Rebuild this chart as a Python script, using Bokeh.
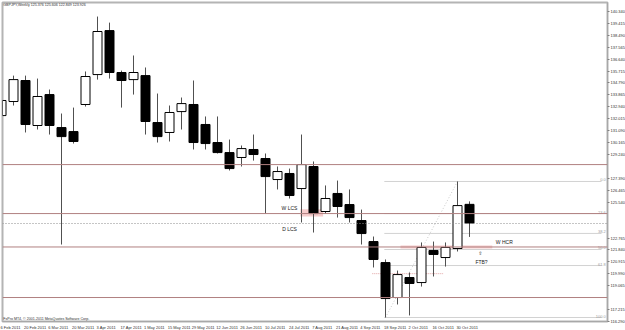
from bokeh.plotting import figure
from bokeh.models import (FixedTicker, LinearAxis, Range1d, Label, Span,
                          NumeralTickFormatter, ColumnDataSource)
from bokeh.core.properties import value
from bokeh.embed import file_html
from bokeh.resources import INLINE

# ---- data (GBPJPY weekly) ----
opens = [132.26, 133.35, 134.98, 131.49, 133.89, 131.33, 131.02, 133.12, 135.44, 138.85,
         135.60, 135.05, 135.36, 131.72, 130.95, 132.57, 133.12, 131.57, 130.17, 129.39,
         129.01, 129.63, 128.93, 127.30, 127.77, 126.60, 128.31, 124.82, 126.22, 125.36,
         124.12, 122.49, 120.86, 118.15, 119.70, 119.31, 121.80, 121.25, 121.95, 125.376]
highs = [134.20, 135.36, 135.36, 135.13, 134.28, 132.42, 132.88, 135.68, 139.94, 139.47,
         135.75, 136.92, 135.99, 133.97, 133.04, 133.66, 134.98, 132.19, 132.19, 130.40,
         129.94, 130.79, 129.32, 128.31, 128.15, 130.79, 128.70, 126.84, 127.22, 126.53,
         124.97, 122.88, 121.10, 120.24, 120.09, 122.42, 122.49, 122.42, 127.15, 125.606]
lows = [131.49, 133.04, 130.95, 131.18, 130.79, 122.26, 130.09, 132.96, 135.05, 135.13,
        132.88, 133.89, 130.79, 130.17, 130.25, 131.18, 129.63, 129.63, 129.32, 128.00,
        128.31, 128.77, 124.66, 126.53, 125.83, 123.97, 123.19, 124.66, 124.35, 123.97,
        122.26, 120.48, 116.60, 117.61, 116.76, 119.00, 119.78, 120.55, 121.72, 122.849]
closes = [133.43, 135.05, 131.57, 133.74, 131.49, 130.63, 130.25, 135.29, 138.78, 135.60,
          134.98, 135.60, 131.80, 130.63, 132.50, 133.19, 130.17, 130.09, 129.39, 128.15,
          129.70, 129.24, 127.53, 127.92, 126.06, 128.46, 124.66, 125.83, 125.21, 124.35,
          123.11, 121.10, 118.07, 119.93, 119.24, 122.03, 121.49, 122.03, 125.28, 123.926]

date_labels = ["6 Feb 2011", "20 Feb 2011", "6 Mar 2011", "20 Mar 2011", "3 Apr 2011",
               "17 Apr 2011", "1 May 2011", "15 May 2011", "29 May 2011", "12 Jun 2011",
               "26 Jun 2011", "10 Jul 2011", "24 Jul 2011", "7 Aug 2011", "21 Aug 2011",
               "4 Sep 2011", "18 Sep 2011", "2 Oct 2011", "16 Oct 2011", "30 Oct 2011"]
date_positions = [0, 2, 4, 6, 8, 10, 12, 14, 16, 18, 20, 22, 24, 26, 28, 30, 32, 34, 36, 38]

price_ticks = [116.290, 117.215, 119.065, 119.990, 120.915, 121.840, 122.765, 125.540,
               126.465, 127.390, 129.240, 130.165, 131.090, 132.015, 132.940, 133.865,
               134.790, 135.715, 136.640, 137.565, 138.490, 139.415, 140.340]

solid_levels = [128.46, 124.66, 122.07, 118.15]
dotted_levels = [123.89]
marked_levels = [128.46, 124.66, 123.89, 122.07, 118.15]

fib_ratios = [0.0, 23.6, 38.2, 50.0, 61.8, 100.0]
fib_low_bar = 32
fib_high_bar = 38

header = "GBPJPY,Weekly  125.376 125.606 122.849 123.926"
copyright_text = "FxPro MT4, \u00a9 2001-2011 MetaQuotes Software Corp."

# ---- figure ----
FONT = "Liberation Sans"
BAR_PX = 12.0
p = figure(frame_width=605, frame_height=319,
           x_range=Range1d(1.0 / BAR_PX, 606.0 / BAR_PX), y_range=Range1d(116.29, 141.03),
           output_backend="svg", toolbar_location=None,
           x_axis_location=None, y_axis_location=None,
           min_border_left=2, min_border_top=2, min_border_right=0, min_border_bottom=0,
           background_fill_color="white", border_fill_color="white")
p.xgrid.visible = False
p.ygrid.visible = False
p.outline_line_color = "#b4b4b4"
p.outline_line_width = 2

# MT4 writes each date starting at its bar: shift the (centred) label by half its width
label_px_per_char = 1.75
shifted = [pos + len(lbl) * label_px_per_char / 2.0 / BAR_PX
           for pos, lbl in zip(date_positions, date_labels)]
xaxis = LinearAxis(ticker=FixedTicker(ticks=shifted),
                   major_label_overrides={k: v for k, v in zip(shifted, date_labels)})
yaxis = LinearAxis(ticker=FixedTicker(ticks=price_ticks),
                   formatter=NumeralTickFormatter(format="0.000"))
for ax in (xaxis, yaxis):
    ax.axis_line_color = "#a8a8a8"
    ax.axis_line_width = 1
    ax.major_tick_line_color = "#808080"
    ax.major_tick_out = 2
    ax.major_tick_in = 0
    ax.minor_tick_line_color = None
    ax.major_label_standoff = 1
    ax.major_label_text_font = FONT
    ax.major_label_text_font_size = "4px"
    ax.major_label_text_color = "#303030"
xaxis.major_tick_line_color = None
xaxis.major_tick_out = 2
p.add_layout(xaxis, "below")
p.add_layout(yaxis, "right")

idx = list(range(len(opens)))

# zones
p.quad(left=[24.9, 33.25], right=[26.8, 40.9], bottom=[124.43, 121.95], top=[125.0, 122.18],
       fill_color="#f6cccc", line_color=None)

# levels
for lv in solid_levels:
    p.add_layout(Span(location=lv, dimension="width", line_color="#b08080", line_width=1))
for lv in dotted_levels:
    p.add_layout(Span(location=lv, dimension="width", line_color="#8a8a8a",
                      line_width=1, line_dash="1 2"))

# short dotted level
p.segment(x0=[30.9], y0=[120.0], x1=[36.8], y1=[120.0], line_color="#e0a0a0",
          line_width=1, line_dash="1 1")

# fibonacci
f_hi = highs[fib_high_bar]
f_lo = lows[fib_low_bar]
fib_prices = [f_hi - r / 100.0 * (f_hi - f_lo) for r in fib_ratios]
fx0 = fib_low_bar - 0.1
fx1 = 50.0
p.segment(x0=[fx0] * len(fib_prices), y0=fib_prices, x1=[fx1] * len(fib_prices), y1=fib_prices,
          line_color="#d2d2d2", line_width=1)
p.segment(x0=[fib_low_bar], y0=[f_lo], x1=[fib_high_bar], y1=[f_hi],
          line_color="#c8c8c8", line_width=1, line_dash="1 2")
p.text(x=[50.35] * len(fib_prices), y=fib_prices, text=["%.1f" % r for r in fib_ratios],
       text_font=value(FONT), text_font_size="4px", text_color="#a0a0a0",
       text_align="right", text_baseline="bottom")

# candles
src = ColumnDataSource(dict(
    x=idx,
    top=[max(o, c) for o, c in zip(opens, closes)],
    bottom=[min(o, c) for o, c in zip(opens, closes)],
    high=highs, low=lows,
    fill=["white" if c >= o else "black" for o, c in zip(opens, closes)],
))
p.segment(x0="x", y0="low", x1="x", y1="high", source=src, line_color="#505050", line_width=1)
p.vbar(x="x", width=0.75, top="top", bottom="bottom", source=src,
       fill_color="fill", line_color="black", line_width=1)

# text annotations
p.text(x=[24.0, 24.0, 41.9, 40.0], y=[125.13, 123.50, 122.49, 120.94],
       text=["W LCS", "D LCS", "W HCR", "FTB?"],
       text_font=value(FONT), text_font_size="5px", text_color="#202020",
       text_align="center", text_baseline="middle")
p.text(x=[39.9], y=[121.64], text=["\u21e7"], text_font=value("DejaVu Sans"),
       text_font_size="5px", text_color="#202020", text_align="center",
       text_baseline="middle")
p.text(x=[0.15], y=[140.87], text=[header], text_font=value(FONT), text_font_size="3.6px",
       text_color="#303030", text_align="left", text_baseline="middle")
p.text(x=[0.15], y=[116.45], text=[copyright_text], text_font=value(FONT),
       text_font_size="3.6px", text_color="#303030", text_align="left",
       text_baseline="middle")

# red price markers on the price scale
for lv in marked_levels:
    kw = dict(x=50.67, y=lv, text="%.3f" % lv, text_font=FONT, text_font_size="4px",
              text_color="white", background_fill_color="#a83232",
              text_align="left", text_baseline="middle")
    try:
        lab = Label(padding=0, **kw)
    except Exception:
        lab = Label(**kw)
    p.add_layout(lab)

open("out.html", "w").write(file_html(p, INLINE))
